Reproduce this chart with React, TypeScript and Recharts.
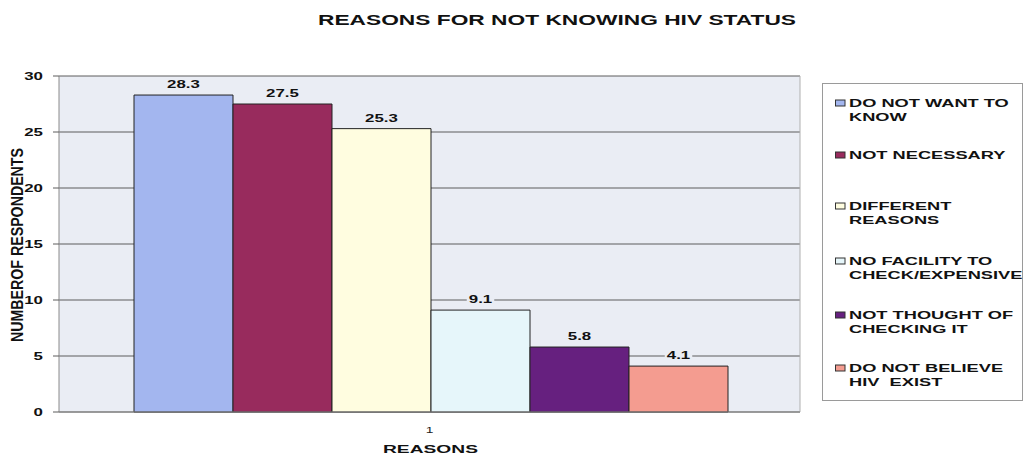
import React from 'react';
import { BarChart, Bar, XAxis, YAxis, CartesianGrid, LabelList } from 'recharts';

const categories = ['1'];
const seriesNames = [
  'DO NOT WANT TO KNOW',
  'NOT NECESSARY',
  'DIFFERENT REASONS',
  'NO FACILITY TO CHECK/EXPENSIVE',
  'NOT THOUGHT OF CHECKING IT',
  'DO NOT BELIEVE HIV EXIST',
];
const legendLines = [
  ['DO NOT WANT TO', 'KNOW'],
  ['NOT NECESSARY'],
  ['DIFFERENT', 'REASONS'],
  ['NO FACILITY TO', 'CHECK/EXPENSIVE'],
  ['NOT THOUGHT OF', 'CHECKING IT'],
  ['DO NOT BELIEVE', 'HIV  EXIST'],
];
const values = [28.3, 27.5, 25.3, 9.1, 5.8, 4.1];
const colors = ['#a3b6ef', '#982b5d', '#fffde0', '#e6f6fa', '#66207f', '#f49c90'];
const yTicks = [0, 5, 10, 15, 20, 25, 30];
const chartTitle = 'REASONS FOR NOT KNOWING HIV STATUS';
const xTitle = 'REASONS';
const yTitle = 'NUMBEROF RESPONDENTS';

const keys = seriesNames.map((_, i) => `s${i}`);
const data = categories.map((c) => {
  const row: Record<string, string | number> = { name: c };
  keys.forEach((k, i) => (row[k] = values[i]));
  return row;
});

const FONT = '"Liberation Sans", Arial, sans-serif';
const PLOT_BG = '#eaedf4';
const SX = 1.62; // wide lettering used throughout

const ValueLabel = (props: any) => {
  const { x, y, width, value } = props;
  const cx = x + width / 2;
  const txt = String(value);
  const w = txt.length * 8.5 + 2;
  return (
    <g>
      <rect x={cx - w / 2} y={y - 17} width={w} height={13} fill={PLOT_BG} />
      <text
        transform={`translate(${cx},${y - 7}) scale(${SX},1)`}
        textAnchor="middle"
        fontFamily={FONT}
        fontWeight="bold"
        fontSize={10.4}
        fill="#111"
      >
        {txt}
      </text>
    </g>
  );
};

const YTick = (props: any) => {
  const { x, y, payload } = props;
  return (
    <text
      transform={`translate(${x},${y + 4}) scale(${SX},1)`}
      textAnchor="end"
      fontFamily={FONT}
      fontWeight="bold"
      fontSize={10.4}
      fill="#111"
    >
      {payload.value}
    </text>
  );
};

const XTick = (props: any) => {
  const { x, y, payload } = props;
  return (
    <text
      transform={`translate(${x},${y + 9}) scale(${SX},1)`}
      textAnchor="middle"
      fontFamily={FONT}
      fontSize={8.5}
      fill="#222"
    >
      {payload.value}
    </text>
  );
};

const YLabel = () => (
  <text
    transform={`translate(22.5,245) scale(${SX},1) rotate(-90)`}
    textAnchor="middle"
    fontFamily={FONT}
    fontWeight="bold"
    fontSize={9.8}
    fill="#111"
    textLength={194}
    lengthAdjust="spacingAndGlyphs"
  >
    {yTitle}
  </text>
);

const XLabel = () => (
  <text
    x={430.5}
    y={452.5}
    textAnchor="middle"
    fontFamily={FONT}
    fontWeight="bold"
    fontSize={11.8}
    fill="#111"
    textLength={95}
    lengthAdjust="spacingAndGlyphs"
  >
    {xTitle}
  </text>
);

const legendBaselines = [107, 159, 210, 265, 319, 372];

const Overlay = () => (
  <svg width={1024} height={454} style={{ position: 'absolute', left: 0, top: 0, pointerEvents: 'none' }}>
    <text
      x={557}
      y={25}
      textAnchor="middle"
      fontFamily={FONT}
      fontWeight="bold"
      fontSize={14}
      fill="#111"
      textLength={478}
      lengthAdjust="spacingAndGlyphs"
    >
      {chartTitle}
    </text>
    <rect x={822.5} y={83.5} width={200} height={317} fill="#fff" stroke="#9a9a9a" strokeWidth={1} />
    {legendLines.map((lines, i) => {
      const b = legendBaselines[i];
      return (
        <g key={i}>
          <rect x={835.5} y={b - 7} width={9.5} height={6} fill={colors[i]} stroke="#333" strokeWidth={1} />
          {lines.map((l, j) => (
            <text
              key={j}
              transform={`translate(849,${b + j * 13.5}) scale(1.66,1)`}
              fontFamily={FONT}
              fontWeight="bold"
              fontSize={11}
              fill="#111"
              style={{ whiteSpace: 'pre' }}
            >
              {l}
            </text>
          ))}
        </g>
      );
    })}
  </svg>
);

export default function App() {
  return (
    <div style={{ position: 'absolute', left: 0, top: 0, width: 1024, height: 454, background: '#fff' }}>
      <BarChart
        width={1024}
        height={454}
        data={data}
        margin={{ top: 76, right: 224, bottom: 0, left: 0 }}
        barCategoryGap={75}
        barGap={0}
      >
        <CartesianGrid vertical={false} fill={PLOT_BG} stroke="#5c5c5c" strokeWidth={1} />
        <CartesianGrid horizontal={false} vertical verticalPoints={[800]} stroke="#b0b0b0" strokeWidth={1} />
        <XAxis
          dataKey="name"
          height={42}
          axisLine={{ stroke: '#888' }}
          tickLine={false}
          tick={<XTick />}
          tickMargin={6}
          label={<XLabel />}
        />
        <YAxis
          width={59}
          domain={[0, 30]}
          ticks={yTicks}
          interval={0}
          axisLine={{ stroke: '#8a8a8a' }}
          tickLine={{ stroke: '#5c5c5c' }}
          tickSize={6}
          tickMargin={10}
          tick={<YTick />}
          label={<YLabel />}
        />
        {keys.map((k, i) => (
          <Bar
            key={k}
            dataKey={k}
            name={seriesNames[i]}
            fill={colors[i]}
            stroke="#222"
            strokeWidth={1}
            isAnimationActive={false}
          >
            <LabelList dataKey={k} content={<ValueLabel />} />
          </Bar>
        ))}
      </BarChart>
      <Overlay />
    </div>
  );
}
